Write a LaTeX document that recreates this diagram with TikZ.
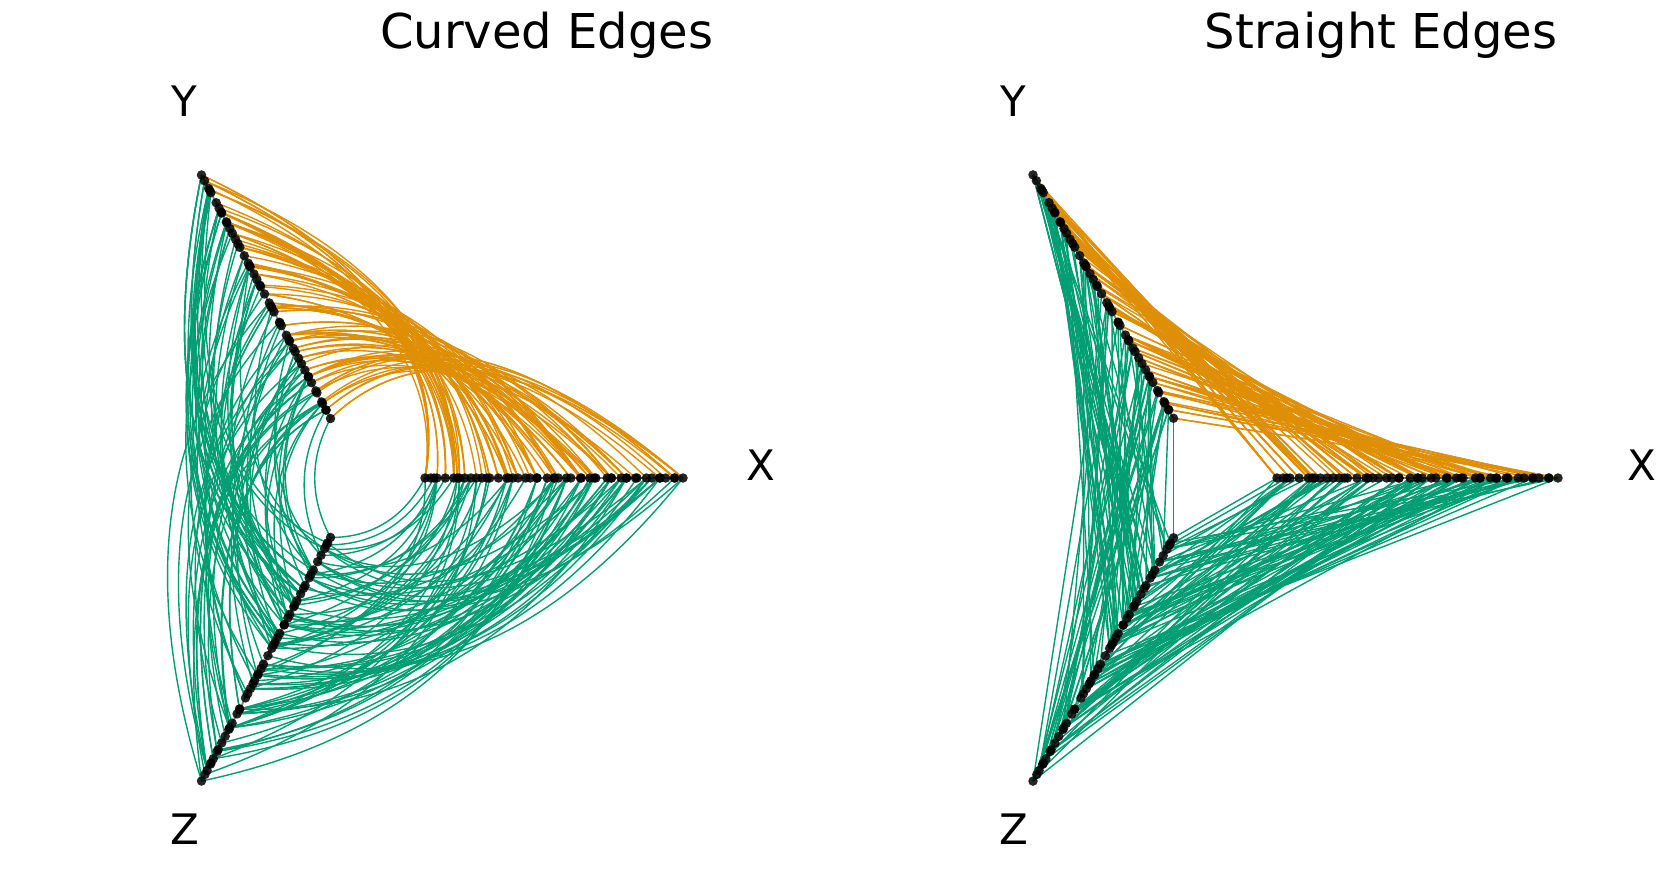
\documentclass[tikz,border=0pt]{standalone}
\usepackage{fontspec}
\setmainfont{DejaVu Sans}
\usetikzlibrary{calc}
\definecolor{hporange}{HTML}{DE8F05}
\definecolor{hpgreen}{HTML}{029E73}
\tikzset{
  orangeedge/.style={draw=hporange, line width=1.4pt},
  greenedge/.style={draw=hpgreen, line width=1.4pt},
  axisline/.style={draw=gray, line width=1.8pt},
  hivedot/.style={circle, fill=black, fill opacity=0.85, inner sep=0pt, minimum size=9.5pt},
  titletext/.style={font=\fontsize{48}{56}\selectfont, anchor=base, inner sep=0pt},
  axislabel/.style={font=\fontsize{42}{50}\selectfont, inner sep=0pt},
}
\begin{document}
\begin{tikzpicture}[x=1pt,y=-1pt]
\useasboundingbox (0,0) rectangle (1666,873);
% ---------- node values (shared by both panels)
\pgfmathsetseed{4242}
\foreach \ax in {X,Y,Z}{%
  \foreach \i in {1,...,50}{%
    \pgfmathsetmacro\vv{max(0,min(1,(\i-1+1.5*(rnd-0.5))/49))}%
    \ifnum\i=1 \gdef\vv{0}\fi
    \ifnum\i=50 \gdef\vv{1}\fi
    \expandafter\xdef\csname hv\ax\i\endcsname{\vv}%
  }%
}
% ---------- edge lists
% Y -> X : anti-correlated
\gdef\edgesYX{1/50,50/1}
\foreach \k in {1,...,88}{%
  \pgfmathtruncatemacro\ii{random(1,50)}%
  \expandafter\let\expandafter\vy\csname hvY\ii\endcsname
  \pgfmathsetmacro\tv{max(0,min(1,1-\vy+0.28*rnd-0.2))}%
  \pgfmathtruncatemacro\jj{round(\tv*49)+1}%
  \xdef\edgesYX{\edgesYX,\ii/\jj}%
}
% X -> Z : values with sum below 1.5
\gdef\edgesXZ{1/1,50/25,25/50}
\foreach \k in {1,...,85}{%
  \pgfmathsetmacro\ua{rnd}%
  \pgfmathsetmacro\wa{rnd}%
  \pgfmathsetmacro\ta{(\ua+\wa>1.5)?(1.5-\wa):\ua}%
  \pgfmathsetmacro\tb{(\ua+\wa>1.5)?(1.5-\ua):\wa}%
  \pgfmathtruncatemacro\ii{round(\ta*49)+1}%
  \pgfmathtruncatemacro\jj{round(\tb*49)+1}%
  \xdef\edgesXZ{\edgesXZ,\ii/\jj}%
}
% Y -> Z
\gdef\edgesYZ{1/1,50/12,4/50,25/50}
\foreach \k in {1,...,84}{%
  \pgfmathsetmacro\ta{rnd}%
  \pgfmathsetmacro\tb{min(1,1.5-1.2*\ta)*pow(rnd,0.7)}%
  \pgfmathtruncatemacro\ii{round(\ta*49)+1}%
  \pgfmathtruncatemacro\jj{round(\tb*49)+1}%
  \xdef\edgesYZ{\edgesYZ,\ii/\jj}%
}
% ---------- node coordinates
\foreach \P/\cx/\ri/\ro/\sy in {L/362/63/321/1.09, R/1208/69/350/1.0}{%
  \foreach \ax/\th in {X/0,Y/120,Z/240}{%
    \foreach \i in {1,...,50}{%
      \expandafter\let\expandafter\vv\csname hv\ax\i\endcsname
      \pgfmathsetmacro\rr{\ri+\vv*(\ro-\ri)}%
      \coordinate (\P\ax\i) at ({\cx+\rr*cos(\th)},{478-\sy*\rr*sin(\th)});
    }%
  }%
}
% ---------- left panel: curved edges
\foreach \a/\b in \edgesYZ {
  \expandafter\let\expandafter\va\csname hvY\a\endcsname
  \expandafter\let\expandafter\vb\csname hvZ\b\endcsname
  \pgfmathsetmacro\rc{63+(\va+\vb)/2*258}
  \coordinate (ctl) at ({362-\rc},478);
  \draw[greenedge] (LY\a) .. controls ($(LY\a)!0.6667!(ctl)$) and ($(LZ\b)!0.6667!(ctl)$) .. (LZ\b);
}
\foreach \a/\b in \edgesXZ {
  \expandafter\let\expandafter\va\csname hvX\a\endcsname
  \expandafter\let\expandafter\vb\csname hvZ\b\endcsname
  \pgfmathsetmacro\rc{63+(\va+\vb)/2*258}
  \coordinate (ctl) at ({362+0.5*\rc},{478+1.09*0.866*\rc});
  \draw[greenedge] (LX\a) .. controls ($(LX\a)!0.6667!(ctl)$) and ($(LZ\b)!0.6667!(ctl)$) .. (LZ\b);
}
\foreach \a/\b in \edgesYX {
  \expandafter\let\expandafter\va\csname hvY\a\endcsname
  \expandafter\let\expandafter\vb\csname hvX\b\endcsname
  \pgfmathsetmacro\rc{63+(\va+\vb)/2*258}
  \coordinate (ctl) at ({362+0.5*\rc},{478-1.09*0.866*\rc});
  \draw[orangeedge] (LY\a) .. controls ($(LY\a)!0.6667!(ctl)$) and ($(LX\b)!0.6667!(ctl)$) .. (LX\b);
}
% ---------- right panel: straight edges
\foreach \a/\b in \edgesYZ { \draw[greenedge] (RY\a) -- (RZ\b); }
\foreach \a/\b in \edgesXZ { \draw[greenedge] (RX\a) -- (RZ\b); }
\foreach \a/\b in \edgesYX { \draw[orangeedge] (RY\a) -- (RX\b); }
% ---------- axes and nodes
\foreach \P in {L,R}{%
  \foreach \ax in {X,Y,Z}{%
    \draw[axisline] (\P\ax1) -- (\P\ax50);
    \foreach \i in {1,...,50}{ \node[hivedot] (d\P\ax\i) at (\P\ax\i) {}; }%
  }%
}
% ---------- labels
\node[titletext] (t1) at (546.7,48) {Curved Edges};
\node[titletext] (t2) at (1381,48) {Straight Edges};
\node[axislabel] (ly) at (184,101) {Y};
\node[axislabel] (lz) at (185,829) {Z};
\node[axislabel] (lx) at (761,465) {X};
\node[axislabel] (ry) at (1013,101) {Y};
\node[axislabel] (rz) at (1014,829) {Z};
\node[axislabel] (rx) at (1642,465) {X};
\end{tikzpicture}
\end{document}
